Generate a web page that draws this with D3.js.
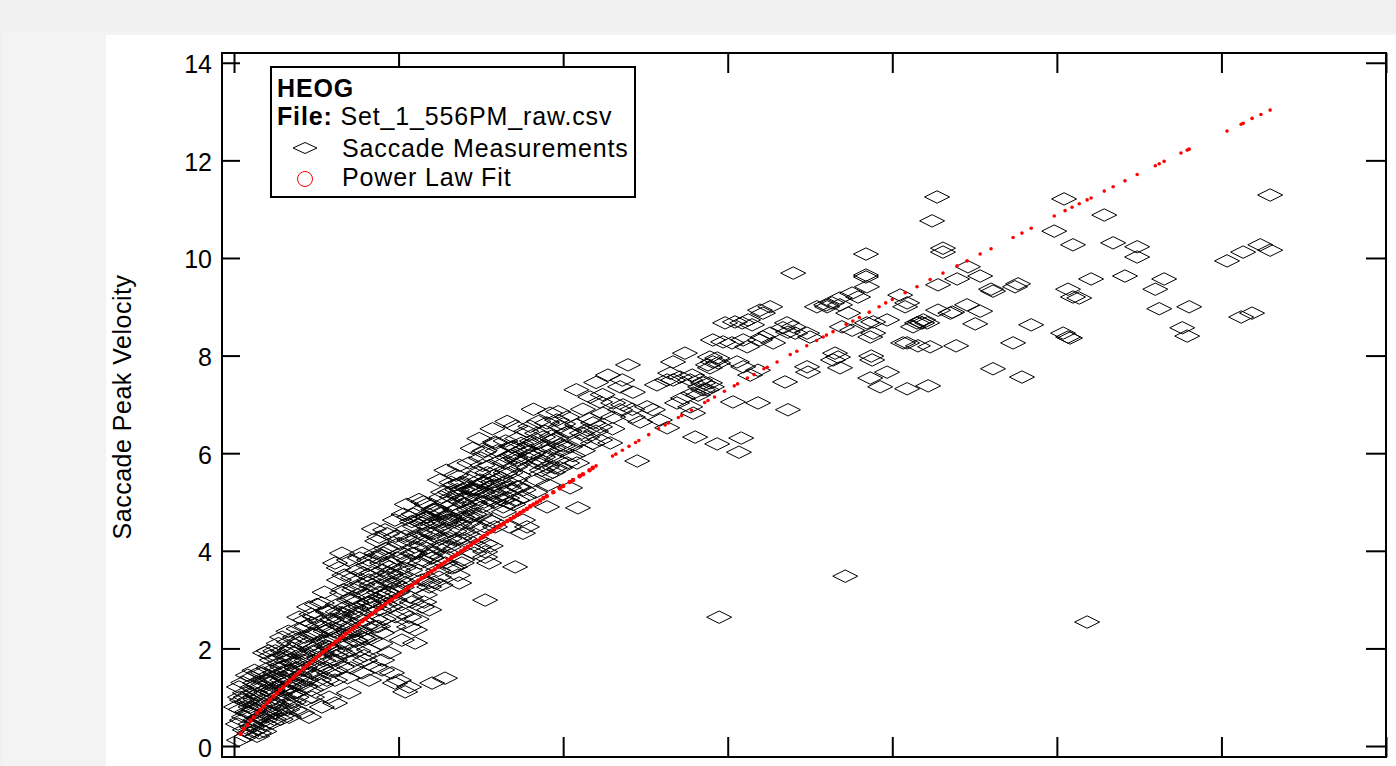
<!DOCTYPE html>
<html>
<head>
<meta charset="utf-8">
<script src="https://cdn.jsdelivr.net/npm/d3@7"></script>
<style>
body { margin: 0; background: #f0f0f0; overflow: hidden; }
svg { display: block; font-family: "Liberation Sans", Arial, sans-serif; }
</style>
</head>
<body>
<svg id="chart"></svg>
<script>
// tick values
let yTicks = [0, 2, 4, 6, 8, 10, 12, 14]
let xTicks = [0, 5, 10, 15, 20, 25, 30, 35]

// saccade measurements: [amplitude, peak velocity]
let saccades = [
  // sparse upper right
  [21.36,11.25],[21.21,10.76],[21.54,10.20],[21.54,10.12],[25.22,11.21],[26.44,10.88],[31.48,11.29],[24.92,10.55],
  [25.49,10.27],[26.71,10.31],[27.44,10.23],[27.44,10.02],[30.17,9.94],[30.66,10.12],[31.18,10.27],[31.48,10.16],
  [26.04,9.57],[27.07,9.63],[28.26,9.57],[27.99,9.36],[25.34,9.36],[25.49,9.20],[25.68,9.18],[22.30,9.82],
  [22.67,9.63],[21.97,9.57],[21.39,9.45],[23.00,9.36],[23.06,9.32],[23.82,9.47],[23.73,9.41],[22.27,9.04],
  [22.67,8.91],[21.82,8.89],[21.39,8.93],[22.52,8.65],[20.39,9.00],[20.45,9.08],[20.84,8.69],[20.91,8.67],
  [20.63,8.59],[20.45,8.26],[21.15,8.18],[21.94,8.20],[24.22,8.63],[23.67,8.26],[25.19,8.46],[25.34,8.38],
  [25.40,8.36],[23.06,7.73],[23.94,7.56],[21.09,7.38],[20.45,7.32],[28.11,8.96],[29.02,9.00],[28.81,8.57],
  [28.96,8.40],[30.60,8.79],[30.93,8.87],
  // low outliers
  [25.92,2.54],[18.57,3.48],[14.74,2.64],[7.63,2.99],
  // middle
  [19.20,10.08],[16.99,9.69],[19.20,9.65],[19.20,9.61],[19.23,9.41],[18.78,9.28],[18.96,9.20],[18.41,9.18],
  [18.17,9.08],[17.99,9.04],[18.02,9.00],[18.41,9.04],[18.66,8.87],[20.24,9.24],[21.76,8.87],[20.94,8.73],
  [21.06,8.67],[20.75,8.67],[19.42,8.69],[19.23,8.67],[19.84,8.73],[19.33,8.38],[19.42,8.46],[20.33,8.26],
  [20.78,8.20],[19.36,7.99],[19.39,7.91],[19.33,7.54],[19.84,7.66],[19.63,7.36],[18.47,8.59],[18.78,8.52],
  [17.71,9.00],[17.41,7.77],[17.44,7.66],[18.20,7.91],[18.35,7.97],[18.26,8.05],[18.41,7.75],[16.74,7.46],
  [16.83,6.89],[16.29,9.00],[15.98,8.93],[16.07,8.87],[15.62,8.73],[15.44,8.67],[15.22,8.69],[15.74,8.63],
  [16.80,8.67],[16.68,8.57],[16.99,8.59],[16.83,8.48],[17.05,8.46],[17.41,8.46],[17.50,8.38],[16.29,8.46],
  [16.07,8.38],[15.98,8.32],[16.38,8.26],[15.47,8.32],[15.59,8.18],[14.55,8.32],[14.86,8.28],[15.13,8.26],
  [13.70,8.05],[13.34,7.87],[14.46,7.97],[14.55,7.87],[14.71,7.85],[14.40,7.81],[14.46,7.75],[15.28,7.87],
  [15.47,7.77],[15.68,7.60],[15.92,7.70],[13.25,7.64],[13.55,7.56],[13.86,7.50],[13.16,7.50],[14.46,7.44],
  [14.16,7.36],[14.37,7.30],[13.95,7.23],[15.16,7.05],[15.92,7.03],[13.95,6.82],[13.16,6.52],[14.01,6.33],
  [15.41,6.31],[15.34,6.02],[14.68,6.19],[12.25,5.84],[14.92,8.67],[14.68,7.95],[11.97,7.81],[11.36,7.60],
  [13.34,7.50],[13.92,7.60],[14.16,7.50],[14.25,7.44],[12.85,7.40],[11.73,7.36],[12.12,7.25],[10.82,7.15],
  [11.12,7.05],[11.52,7.03],[11.82,6.99],[11.73,6.89],[12.55,6.95],[12.73,6.89],[13.46,7.03],[13.64,7.13],
  [14.10,7.19],[14.25,7.30],[14.52,7.36],[13.86,6.95],[12.94,6.68],[11.21,6.82],[11.52,6.74],[12.12,6.74],
  [12.34,6.64],[10.91,6.62],[11.12,6.54],[10.73,6.48],[9.60,6.82],[9.81,6.68],[10.12,6.74],[9.51,6.62],
  [9.91,6.54],[10.12,6.43],[10.42,6.58],[10.57,6.41],[10.73,6.33],[9.21,6.41],[9.39,6.33],[9.69,6.27],
  [9.91,6.17],[10.21,6.13],[11.12,6.27],[11.43,6.21],[7.93,6.23],[7.57,6.02],[8.48,6.13],[8.78,6.07],
  [8.99,6.17],[8.30,5.92],[8.60,5.86],[8.90,5.90],[9.09,6.00],[9.39,5.92],[9.81,5.86],[10.12,5.80],
  [10.42,5.80],[9.21,5.80],[9.51,5.72],[9.69,5.61],[9.91,5.70],[6.87,5.39],[7.08,5.29],[6.56,5.20],
  [6.81,5.14],[7.08,5.10],[7.47,5.45],[7.87,5.41],[8.17,5.39],[8.60,5.31],[7.38,5.25],[7.69,5.18],
  [7.99,5.10],[8.30,5.08],[8.60,5.04],[10.21,5.29],[9.51,4.90],[10.45,4.88],[8.78,4.63],[8.90,4.49],
  [8.78,4.36],[6.05,4.84],[6.26,4.77],[5.86,4.69],[5.65,4.63],[6.05,4.57],[6.47,4.63],
  // dense lower band
  [8.45,6.13],[8.54,6.00],[8.23,5.80],[8.54,5.72],[8.54,5.45],[8.66,5.31],[6.72,5.35],[6.93,5.25],
  [6.62,5.10],[7.54,5.39],[7.75,5.31],[7.32,5.25],[7.93,5.18],[6.11,4.84],[6.32,4.77],[5.89,4.69],
  [6.72,4.84],[6.93,4.69],[6.53,4.63],[7.32,4.98],[7.54,4.90],[7.14,4.84],[8.14,5.04],[8.36,4.98],
  [7.75,4.63],[7.93,4.49],[8.36,4.49],[7.63,3.87],[8.54,3.67],[7.75,3.75],[7.44,4.08],[7.63,3.98],
  [6.84,3.34],[5.32,2.44],[5.50,2.38],[5.10,2.73],[5.32,2.64],[5.71,2.85],[5.93,2.79],[4.71,3.14],
  [4.89,2.99],[4.71,3.55],[5.01,3.40],[4.50,3.46],[4.28,3.87],[4.50,3.75],[4.71,3.67],[3.89,3.95],
  [4.10,3.81],[3.28,3.95],[3.49,3.81],[3.07,3.75],[3.19,3.40],[2.28,2.85],[2.67,2.93],[2.89,2.79],
  [1.98,2.64],[2.16,2.58],[2.37,2.52],[1.46,2.23],[1.67,2.13],[1.85,2.23],[0.94,1.91],[1.15,1.76],
  [1.37,1.82],[0.76,1.50],[0.94,1.35],[1.15,1.41],[0.15,1.21],[0.33,1.09],[0.24,0.94],[0.06,0.80],
  [0.64,1.09],[0.85,0.94],[1.06,0.80],[1.25,0.68],[1.46,1.00],[1.67,0.88],[1.85,0.74],[0.46,0.68],
  [0.64,0.53],[0.85,0.59],[0.15,0.12],[3.98,1.76],[4.28,1.62],[4.50,1.56],[3.89,1.50],[4.10,1.35],
  [4.80,1.50],[5.01,1.35],[5.32,1.21],[4.89,1.29],[6.02,1.29],[6.41,1.39],[5.20,1.11],[3.49,1.09],
  [2.67,0.80],[2.07,0.68],[2.28,0.59],[4.50,1.76],[4.71,1.91],[5.10,2.17],[5.50,2.11],[3.49,2.32],
  [3.68,2.17],[3.89,2.23],[2.67,1.91],[2.89,2.03],[3.07,1.76],[2.16,1.62],[2.37,1.50],[2.58,1.35],
  [1.67,1.76],[1.46,1.62],[1.76,1.50],[1.15,1.09],[1.46,1.21],[0.24,0.53],[0.55,0.39],[0.33,0.33],
  [0.76,0.27],[5.71,3.40],[5.93,3.26],[6.23,3.46],[6.72,3.67],[6.93,3.81],[6.53,4.08],[6.72,4.22],
  [5.71,3.81],[6.02,3.95],[6.32,3.87],[5.32,4.22],[5.50,4.08],[5.10,3.95],[5.93,4.36],[6.23,4.43],
  [6.93,4.43],[7.14,4.57],[7.32,4.49],[4.89,4.63],[5.32,4.69],[5.71,4.57],[4.41,4.28],[4.59,4.43],
  [4.10,3.40],[4.28,3.26],[3.68,3.26],[3.89,3.14],[3.28,3.14],[3.49,2.99],[4.10,2.93],[4.41,2.79],
  [3.68,2.73],[3.89,2.58],[3.28,2.73],[3.07,2.52],[4.28,2.44],[4.50,2.32],[4.10,1.97],[3.68,1.76],
  [2.67,2.44],[2.46,2.32],[2.16,2.23],[1.98,2.11],[1.85,1.91],[2.07,1.76],[1.25,1.50],[1.46,1.35],
  [0.64,1.29],[0.55,1.41],[1.67,1.21],[1.85,1.09],[2.89,1.50],[3.07,1.35],[3.28,1.62],[2.16,1.21],
  [2.37,1.00],[2.89,1.00],[3.07,0.88],[1.46,0.74],[1.67,0.59],[0.94,0.53],[1.15,0.47],[0.46,0.27],
  // core of the band
  [0.30,0.60],[0.40,0.90],[0.50,0.45],[0.60,0.75],[0.70,1.05],[0.80,0.60],[0.90,0.85],[1.00,1.15],
  [0.35,1.00],[0.55,1.20],[0.75,0.35],[0.95,0.45],[1.10,1.30],[1.20,0.90],[1.30,1.60],[1.40,1.05],
  [1.50,1.40],[1.60,0.95],[1.70,1.55],[1.80,1.30],[1.90,1.00],[2.00,1.45],[1.25,1.95],[1.55,1.85],
  [1.75,2.00],[1.05,1.60],[2.10,1.90],[2.20,1.35],[2.30,2.05],[2.40,1.65],[2.50,2.30],[2.60,1.80],
  [2.70,2.15],[2.80,1.60],[2.90,2.40],[3.00,1.95],[2.45,2.65],[2.85,2.75],[2.20,2.45],[3.10,2.20],
  [3.20,2.60],[3.30,1.90],[3.40,2.85],[3.50,2.40],[3.60,3.05],[3.70,2.15],[3.80,2.70],[3.90,3.30],
  [4.00,2.45],[3.35,3.50],[3.75,3.60],[3.55,1.60],[4.10,2.95],[4.20,3.55],[4.30,2.60],[4.40,3.15],
  [4.50,3.90],[4.60,2.90],[4.70,3.35],[4.80,4.05],[4.90,2.65],[5.00,3.60],[4.35,4.20],[4.65,4.35],
  [4.15,2.20],[5.10,3.25],[5.20,4.30],[5.30,3.80],[5.40,2.95],[5.50,4.50],[5.60,3.60],[5.70,4.10],
  [5.80,3.10],[5.90,4.75],[6.00,3.85],[5.25,4.95],[5.75,5.00],[5.55,2.60],[6.10,4.30],[6.20,3.60],
  [6.30,5.10],[6.40,4.55],[6.50,3.95],[6.60,5.40],[6.70,4.40],[6.80,3.50],[6.90,5.00],[7.00,4.25],
  [6.45,5.65],[6.85,5.75],[7.10,4.70],[7.20,5.50],[7.30,3.95],[7.40,5.05],[7.50,5.90],[7.60,4.50],
  [7.70,5.60],[7.80,4.10],[7.90,5.35],[8.00,6.05],[7.45,6.30],[7.85,6.50],[8.20,4.80],[8.40,5.60],
  [8.60,6.30],[8.80,5.25],[9.00,6.55],[9.20,5.45],[9.40,6.15],[8.30,6.65],[9.10,6.90],[9.50,5.55],
  [9.70,6.10],[10.00,6.60],[10.30,5.95],[10.60,6.90],[10.90,6.20],[11.20,7.20],[11.50,6.50],[11.80,7.50],
  [12.10,6.90],[10.40,7.30],[11.00,7.45],
  // more of the dense band
  [0.12,0.45],[0.20,0.75],[0.28,1.30],[0.38,0.20],[0.42,1.45],[0.48,0.95],[0.58,0.30],[0.62,1.55],
  [0.68,0.50],[0.72,1.25],[0.78,0.85],[0.88,1.50],[0.92,0.30],[0.98,0.70],[0.18,1.00],[0.52,0.65],
  [0.82,1.10],[1.02,1.35],[1.08,0.70],[1.12,1.85],[1.18,1.15],[1.22,0.55],[1.28,1.35],[1.32,0.85],
  [1.38,1.70],[1.42,0.55],[1.48,1.95],[1.52,1.15],[1.58,1.55],[1.62,0.75],[1.68,1.95],[1.72,1.05],
  [1.78,1.70],[1.82,0.90],[1.88,1.25],[1.92,1.75],[1.96,2.40],[1.35,2.10],[1.65,2.35],[2.02,1.25],
  [2.08,2.15],[2.12,1.55],[2.18,0.95],[2.25,1.85],[2.32,2.30],[2.35,1.15],[2.42,1.95],[2.48,1.45],
  [2.55,2.05],[2.62,2.55],[2.65,1.25],[2.72,1.75],[2.78,2.35],[2.82,1.35],[2.88,2.15],[2.95,1.75],
  [2.98,2.60],[2.52,2.90],[2.75,3.15],[2.35,2.70],[3.02,2.35],[3.08,1.55],[3.15,2.90],[3.22,1.95],
  [3.25,2.45],[3.32,3.20],[3.38,2.10],[3.45,2.65],[3.52,1.95],[3.58,2.80],[3.62,3.45],[3.68,2.35],
  [3.72,2.95],[3.78,1.95],[3.85,2.85],[3.92,3.55],[3.95,2.20],[3.18,3.65],[3.45,1.40],[3.82,3.85],
  [4.02,3.10],[4.08,3.70],[4.12,2.50],[4.18,3.30],[4.25,2.85],[4.32,3.95],[4.38,2.45],[4.45,3.05],
  [4.52,3.60],[4.55,2.60],[4.62,4.05],[4.68,3.15],[4.75,2.85],[4.78,3.75],[4.85,3.35],[4.92,4.30],
  [4.95,3.15],[4.25,4.45],[4.45,2.10],[4.85,2.45],[5.02,4.15],[5.08,2.90],[5.15,3.65],[5.22,3.35],
  [5.28,4.45],[5.35,3.05],[5.42,3.95],[5.45,4.75],[5.52,3.25],[5.58,4.25],[5.65,3.75],[5.72,4.65],
  [5.78,2.95],[5.85,4.05],[5.92,3.35],[5.95,4.40],[5.15,4.75],[5.62,5.05],[6.02,4.35],[6.08,3.35],
  [6.15,4.85],[6.22,4.05],[6.28,3.30],[6.35,4.60],[6.42,3.75],[6.48,5.00],[6.55,4.25],[6.62,3.65],
  [6.65,4.95],[6.72,4.05],[6.78,5.25],[6.85,4.55],[6.92,3.75],[6.95,4.80],[6.25,5.45],[6.75,5.55],
  [7.02,5.05],[7.08,4.35],[7.15,5.80],[7.22,4.70],[7.28,5.25],[7.35,4.25],[7.42,5.60],[7.48,4.75],
  [7.55,5.20],[7.62,6.05],[7.65,4.15],[7.72,5.05],[7.78,5.75],[7.85,4.60],[7.92,5.55],[7.95,6.20],
  [7.25,6.10],[8.05,5.25],[8.12,5.85],[8.18,4.90],[8.25,6.25],[8.35,5.30],[8.42,5.95],[8.48,4.95],
  [8.55,6.55],[8.65,5.55],[8.72,6.20],[8.82,5.10],[8.88,6.45],[8.95,5.70],[9.05,6.25],[9.15,5.20],
  [9.25,6.65],[9.32,5.85],[9.45,6.45],[9.55,5.35],[9.65,6.35],[9.75,5.70],[9.85,6.85],[9.95,6.05],
  // near the fit line
  [0.50,0.80],[0.65,0.95],[0.85,1.20],[1.00,0.60],[1.15,1.10],[1.30,0.75],[1.45,1.50],[1.60,1.15],
  [1.75,1.35],[1.90,1.60],[2.05,1.35],[2.20,1.75],[2.35,1.50],[2.50,1.95],[2.65,1.60],[2.80,2.05],
  [0.70,0.20],[0.40,0.70],[1.05,1.95],[1.55,0.65],[2.95,2.20],[3.10,1.85],[3.25,2.30],[3.40,2.55],
  [3.55,2.25],[3.70,2.65],[3.85,2.35],[4.00,2.80],[4.15,3.05],[4.30,2.95],[4.45,3.30],[4.60,3.10],
  [4.75,3.50],[4.90,3.25],[3.15,2.75],[3.65,3.20],[4.05,3.50],[4.55,3.95],[4.95,3.85],[3.95,1.85],
  [5.05,3.50],[5.20,3.85],[5.35,3.60],[5.50,3.95],[5.65,4.35],[5.80,4.20],[5.95,3.90],[6.10,4.60],
  [6.25,4.25],[6.40,4.10],[6.55,4.70],[6.70,4.60],[6.85,4.25],[7.00,4.95],[7.15,5.25],[7.30,4.75],
  [7.45,5.35],[7.60,5.00],[7.75,5.45],[7.90,5.00],[5.40,4.60],[5.85,4.95],[6.35,5.20],[6.95,5.40],
  [7.55,5.75],[8.10,5.50],[8.25,5.60],[8.40,5.25],[8.55,5.90],[8.70,5.80],[8.85,6.10],[9.00,5.95],
  [9.20,6.20],[9.35,5.65],[9.50,6.05],[9.65,5.95],[9.80,6.30],[10.00,6.15],[10.20,6.45],[10.50,6.25],
  [10.80,6.70],[11.00,6.45],[10.60,6.05]
]

// power law fit evaluated at the measured amplitudes: [amplitude, velocity]
let powerFit = [
  [0.2,0.25],[0.3,0.35],[0.4,0.43],[0.5,0.52],[0.6,0.59],[0.7,0.67],[0.8,0.74],[0.9,0.81],[1.0,0.88],
  [1.1,0.95],[1.2,1.02],[1.3,1.08],[1.4,1.15],[1.5,1.21],[1.6,1.28],[1.7,1.34],[1.8,1.40],[1.9,1.46],
  [2.0,1.52],[2.1,1.58],[2.2,1.64],[2.3,1.69],[2.4,1.75],[2.5,1.81],[2.6,1.86],[2.7,1.92],[2.8,1.97],
  [2.9,2.03],[3.0,2.08],[3.1,2.14],[3.2,2.19],[3.3,2.24],[3.4,2.30],[3.5,2.35],[3.6,2.40],[3.7,2.45],
  [3.8,2.50],[3.9,2.56],[4.0,2.61],[4.1,2.66],[4.2,2.71],[4.3,2.76],[4.4,2.81],[4.5,2.86],[4.6,2.91],
  [4.7,2.96],[4.8,3.00],[4.9,3.05],[5.0,3.10],[5.1,3.15],[5.2,3.20],[5.3,3.25],[5.4,3.29],[5.5,3.34],
  [5.6,3.39],[5.7,3.44],[5.8,3.48],[5.9,3.53],[6.0,3.58],[6.1,3.62],[6.2,3.67],[6.3,3.72],[6.4,3.76],
  [6.5,3.81],[6.6,3.85],[6.7,3.90],[6.8,3.94],[6.9,3.99],[7.0,4.03],[7.1,4.08],[7.2,4.12],[7.3,4.17],
  [7.4,4.21],[7.5,4.26],[7.6,4.30],[7.7,4.35],[7.8,4.39],[7.9,4.43],[8.0,4.48],[8.1,4.52],[8.2,4.56],
  [8.3,4.61],[8.4,4.65],[8.5,4.69],[8.6,4.74],[8.7,4.78],[8.8,4.82],[8.9,4.86],[9.0,4.91],[9.1,4.95],
  [9.2,4.99],[9.3,5.03],[9.4,5.08],[9.5,5.12],
  [9.7,5.20],[9.9,5.28],[10.0,5.33],[10.2,5.41],[10.3,5.45],[10.5,5.53],[10.6,5.57],[10.8,5.65],
  [10.9,5.70],[11.0,5.74],[11.5,5.94],[11.6,5.98],[11.8,6.06],[12.0,6.14],[12.2,6.22],[12.3,6.26],
  [12.6,6.38],[12.9,6.50],[13.1,6.58],[13.2,6.62],[13.5,6.73],[13.6,6.77],[13.9,6.88],[14.3,7.04],
  [14.4,7.08],[14.6,7.15],[14.9,7.27],[15.2,7.38],[15.3,7.42],[15.6,7.54],[15.8,7.61],[16.1,7.73],
  [16.2,7.76],[16.5,7.87],[16.9,8.02],[17.1,8.09],[17.4,8.20],[17.7,8.31],[17.9,8.38],[18.0,8.42],
  [18.2,8.49],[18.6,8.64],[18.8,8.71],[19.0,8.78],[19.3,8.89],[19.6,9.00],[19.8,9.08],[20.0,9.15],
  [20.39,9.29],[20.75,9.41],[21.15,9.56],[21.54,9.69],[21.97,9.84],[22.27,9.94],[22.67,10.08],[23.00,10.19],
  [23.67,10.42],[23.94,10.51],[24.22,10.61],[24.92,10.86],[25.25,10.97],[25.46,11.04],[25.68,11.11],[25.92,11.19],
  [26.04,11.23],[26.44,11.37],[26.71,11.46],[27.07,11.58],[27.44,11.71],[27.99,11.89],[28.11,11.93],[28.26,11.98],
  [28.77,12.15],[28.96,12.21],[29.02,12.23],[30.17,12.60],[30.60,12.74],[30.66,12.76],[30.93,12.86],[31.20,12.94],
  [31.48,13.03]
]

let width = 1396
let height = 766
let plot = {left: 222, right: 1386, top: 53, bottom: 757}
let labelSize = 25

let svg = d3.select('#chart')
    .attr('width', width)
    .attr('height', height)

// page panels
svg.append('rect')
   .attr('x', 3).attr('y', 32)
   .attr('width', width).attr('height', height)
   .attr('fill', '#f3f3f3')
svg.append('rect')
   .attr('x', 106).attr('y', 35)
   .attr('width', width).attr('height', height)
   .attr('fill', '#ffffff')

let xScale = d3.scaleLinear()
               .domain([-0.365, 35])
               .range([plot.left, plot.right])
let yScale = d3.scaleLinear()
               .domain([-0.225, 14.2])
               .range([plot.bottom, plot.top])

let styleAxis = (g) => {
    g.select('.domain').remove()
    g.selectAll('line').attr('stroke', '#000').attr('stroke-width', 2)
    g.attr('font-family', null).attr('font-size', null)
}

svg.append('g')
   .attr('transform', 'translate(' + plot.left + ',0)')
   .call(d3.axisLeft(yScale).tickValues(yTicks).tickSize(-18).tickPadding(10))
   .call(styleAxis)
   .selectAll('text')
   .attr('font-size', labelSize)
   .attr('dy', '0.4em')
   .attr('fill', '#000')

svg.append('g')
   .attr('transform', 'translate(' + plot.right + ',0)')
   .call(d3.axisRight(yScale).tickValues(yTicks).tickSize(-20).tickFormat(''))
   .call(styleAxis)

svg.append('g')
   .attr('transform', 'translate(0,' + plot.top + ')')
   .call(d3.axisTop(xScale).tickValues(xTicks).tickSize(-20).tickFormat(''))
   .call(styleAxis)

svg.append('g')
   .attr('transform', 'translate(0,' + plot.bottom + ')')
   .call(d3.axisBottom(xScale).tickValues(xTicks).tickSize(-20).tickFormat(''))
   .call(styleAxis)

svg.append('rect')
   .attr('x', plot.left).attr('y', plot.top)
   .attr('width', plot.right - plot.left).attr('height', plot.bottom - plot.top)
   .attr('fill', 'none')
   .attr('stroke', '#000')
   .attr('stroke-width', 2)

svg.append('text')
   .attr('transform', 'translate(131,' + ((plot.top + plot.bottom) / 2 + 2) + ') rotate(-90)')
   .attr('text-anchor', 'middle')
   .attr('font-size', labelSize)
   .attr('letter-spacing', 0.5)
   .text('Saccade Peak Velocity')

let diamond = 'M0,-6.2L12.5,0L0,6.2L-12.5,0Z'

svg.append('g')
   .selectAll('path')
   .data(saccades)
   .enter()
   .append('path')
   .attr('d', diamond)
   .attr('transform', (d) => 'translate(' + xScale(d[0]) + ',' + yScale(d[1]) + ')')
   .attr('fill', 'none')
   .attr('stroke', '#000')
   .attr('stroke-width', 1)

// fit dots overlap into a solid line where the measurements are dense
svg.append('g')
   .selectAll('circle')
   .data(powerFit)
   .enter()
   .append('circle')
   .attr('cx', (d) => xScale(d[0]))
   .attr('cy', (d) => yScale(d[1]))
   .attr('r', (d) => d[0] < 11 ? 2.3 : 1.8)
   .attr('fill', '#ff0000')

// legend
let legend = svg.append('g')
legend.append('rect')
      .attr('x', 271).attr('y', 67)
      .attr('width', 364).attr('height', 130)
      .attr('fill', '#fff')
      .attr('stroke', '#000')
      .attr('stroke-width', 2)
legend.append('text')
      .attr('x', 277).attr('y', 97)
      .attr('font-size', labelSize).attr('font-weight', 'bold')
      .attr('letter-spacing', 0.85)
      .text('HEOG')
let fileLine = legend.append('text')
      .attr('x', 277).attr('y', 125)
      .attr('font-size', labelSize)
      .attr('letter-spacing', 0.85)
fileLine.append('tspan').attr('font-weight', 'bold').text('File:')
fileLine.append('tspan').text(' Set_1_556PM_raw.csv')
legend.append('path')
      .attr('d', 'M0,-5.5L12,0L0,5.5L-12,0Z')
      .attr('transform', 'translate(305,148)')
      .attr('fill', 'none').attr('stroke', '#000')
legend.append('text')
      .attr('x', 342).attr('y', 157)
      .attr('font-size', labelSize)
      .attr('letter-spacing', 0.85)
      .text('Saccade Measurements')
legend.append('circle')
      .attr('cx', 305).attr('cy', 179).attr('r', 7.5)
      .attr('fill', 'none').attr('stroke', '#ff0000')
legend.append('text')
      .attr('x', 342).attr('y', 186)
      .attr('font-size', labelSize)
      .attr('letter-spacing', 0.85)
      .text('Power Law Fit')
</script>
</body>
</html>
